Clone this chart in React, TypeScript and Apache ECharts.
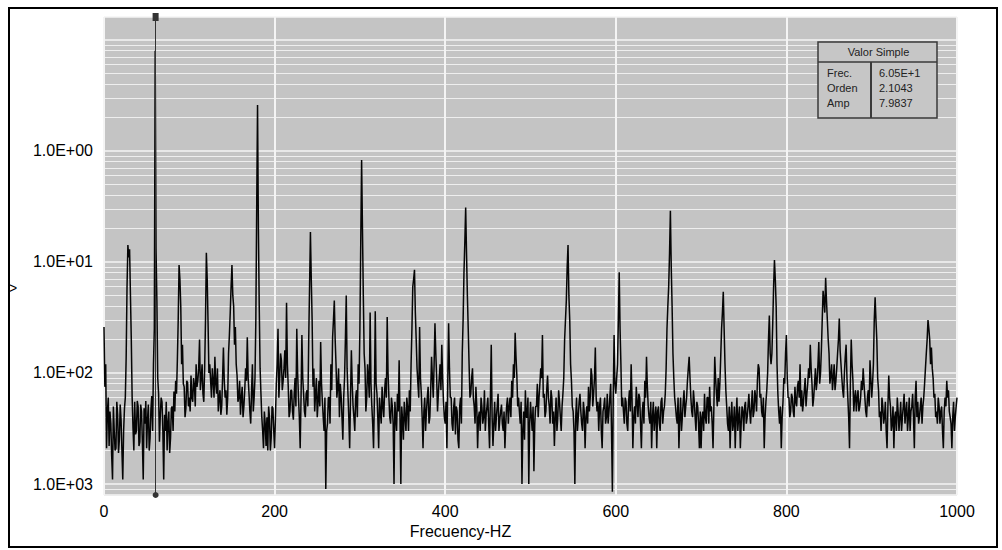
import React, { useEffect, useRef } from "react";
import * as echarts from "echarts";

// Spectrum amplitude, 1 Hz resolution:
// "even" arrays hold the values at 0, 2, 4 ... Hz, "odd" arrays those at 1, 3, 5 ... Hz.

const even000 = [
  0.026, 0.012, 0.0045, 0.0022, 0.0035, 0.0011, 0.003, 0.0021, 0.0042, 0.0025,
  0.0038, 0.0011, 0.0048, 0.014, 0.142, 0.13, 0.02, 0.0032, 0.0055, 0.003,
  0.005, 0.0024, 0.0045, 0.0011, 0.0035, 0.0021, 0.0052, 0.0026, 0.0062, 0.012,
  7.98, 0.045, 0.0065, 0.0042, 0.0055, 0.0011, 0.003, 0.002, 0.0045, 0.0026,
  0.005, 0.0068, 0.0085, 0.013, 0.094, 0.04, 0.018, 0.0075, 0.0048, 0.0082,
];
const odd000 = [
  0.0075, 0.0021, 0.006, 0.0045, 0.0018, 0.005, 0.002, 0.0055, 0.0019, 0.0052,
  0.002, 0.003, 0.006, 0.06, 0.11, 0.05, 0.006, 0.002, 0.0028, 0.0056,
  0.0022, 0.0052, 0.0024, 0.0048, 0.0056, 0.0038, 0.002, 0.0047, 0.003, 0.025,
  0.13, 0.009, 0.0024, 0.006, 0.003, 0.0042, 0.0055, 0.0035, 0.0019, 0.0048,
  0.003, 0.0045, 0.0065, 0.03, 0.07, 0.012, 0.008, 0.004, 0.0085, 0.005,
];
const even100 = [
  0.006, 0.0095, 0.0055, 0.0078, 0.012, 0.0085, 0.02, 0.009, 0.0065, 0.011,
  0.121, 0.028, 0.012, 0.006, 0.0085, 0.014, 0.0065, 0.0045, 0.007, 0.005,
  0.017, 0.006, 0.0042, 0.015, 0.035, 0.094, 0.04, 0.026, 0.0095, 0.006,
  0.0042, 0.0075, 0.005, 0.011, 0.021, 0.0065, 0.0035, 0.012, 0.006, 0.03,
  2.6, 0.039, 0.0065, 0.003, 0.0045, 0.0022, 0.002, 0.004, 0.0026, 0.0048,
];
const odd100 = [
  0.0045, 0.006, 0.009, 0.005, 0.0075, 0.011, 0.007, 0.012, 0.0055, 0.03,
  0.07, 0.01, 0.0085, 0.011, 0.006, 0.008, 0.011, 0.006, 0.0042, 0.009,
  0.0085, 0.007, 0.006, 0.022, 0.06, 0.05, 0.018, 0.012, 0.0055, 0.0085,
  0.006, 0.004, 0.007, 0.0085, 0.009, 0.0045, 0.007, 0.0045, 0.009, 0.3,
  0.2, 0.011, 0.004, 0.0021, 0.0035, 0.004, 0.005, 0.002, 0.005, 0.003,
];
const even200 = [
  0.0021, 0.008, 0.025, 0.009, 0.013, 0.0085, 0.016, 0.043, 0.0075, 0.0045,
  0.007, 0.0038, 0.009, 0.025, 0.006, 0.0021, 0.022, 0.0065, 0.004, 0.007,
  0.02, 0.186, 0.03, 0.011, 0.0065, 0.004, 0.0085, 0.019, 0.0055, 0.003,
  0.0009, 0.0035, 0.006, 0.012, 0.021, 0.045, 0.012, 0.0075, 0.004, 0.0062,
  0.0025, 0.009, 0.05, 0.0065, 0.0021, 0.016, 0.005, 0.003, 0.007, 0.012,
];
const odd200 = [
  0.004, 0.012, 0.006, 0.015, 0.007, 0.011, 0.009, 0.012, 0.004, 0.007,
  0.0045, 0.0065, 0.005, 0.01, 0.004, 0.006, 0.009, 0.0045, 0.0065, 0.005,
  0.06, 0.07, 0.0075, 0.0045, 0.009, 0.0055, 0.005, 0.008, 0.004, 0.006,
  0.003, 0.006, 0.0035, 0.007, 0.03, 0.02, 0.006, 0.011, 0.008, 0.004,
  0.006, 0.02, 0.011, 0.004, 0.006, 0.008, 0.004, 0.006, 0.004, 0.008,
];
const even300 = [
  0.025, 0.83, 0.05, 0.011, 0.006, 0.009, 0.035, 0.005, 0.0021, 0.036,
  0.0065, 0.0021, 0.0045, 0.0075, 0.004, 0.009, 0.032, 0.006, 0.0035, 0.005,
  0.001, 0.004, 0.0065, 0.013, 0.001, 0.0038, 0.0055, 0.003, 0.0048, 0.007,
  0.012, 0.06, 0.085, 0.02, 0.008, 0.026, 0.0065, 0.0021, 0.006, 0.0045,
  0.0075, 0.004, 0.014, 0.006, 0.028, 0.009, 0.0065, 0.012, 0.018, 0.0055,
];
const odd300 = [
  0.15, 0.2, 0.015, 0.0045, 0.012, 0.006, 0.008, 0.0035, 0.006, 0.008,
  0.004, 0.006, 0.0035, 0.005, 0.007, 0.006, 0.01, 0.004, 0.006, 0.0035,
  0.0055, 0.003, 0.0045, 0.004, 0.005, 0.0025, 0.004, 0.006, 0.003, 0.0045,
  0.025, 0.07, 0.035, 0.011, 0.006, 0.009, 0.004, 0.0045, 0.003, 0.006,
  0.0035, 0.007, 0.009, 0.012, 0.015, 0.0045, 0.009, 0.007, 0.009, 0.004,
];
const even400 = [
  0.0035, 0.0021, 0.028, 0.006, 0.0035, 0.005, 0.0028, 0.0045, 0.0021, 0.006,
  0.015, 0.08, 0.31, 0.05, 0.012, 0.0065, 0.011, 0.005, 0.0075, 0.0021,
  0.0045, 0.006, 0.0035, 0.007, 0.0042, 0.006, 0.0021, 0.018, 0.0022, 0.0055,
  0.004, 0.0065, 0.0038, 0.0052, 0.003, 0.0021, 0.005, 0.0035, 0.006, 0.0085,
  0.012, 0.023, 0.0095, 0.006, 0.0035, 0.001, 0.0045, 0.007, 0.004, 0.001,
];
const odd400 = [
  0.0055, 0.008, 0.011, 0.006, 0.003, 0.006, 0.005, 0.0025, 0.005, 0.0035,
  0.03, 0.15, 0.12, 0.025, 0.006, 0.009, 0.006, 0.0035, 0.005, 0.004,
  0.003, 0.005, 0.004, 0.003, 0.005, 0.0035, 0.006, 0.004, 0.0035, 0.003,
  0.005, 0.003, 0.0045, 0.0035, 0.0045, 0.0035, 0.006, 0.005, 0.004, 0.006,
  0.009, 0.014, 0.005, 0.0045, 0.0055, 0.003, 0.0025, 0.004, 0.006, 0.0035,
];
const even500 = [
  0.0055, 0.003, 0.0013, 0.005, 0.008, 0.006, 0.011, 0.022, 0.0065, 0.0045,
  0.0095, 0.005, 0.007, 0.0035, 0.0022, 0.006, 0.004, 0.0055, 0.003, 0.0065,
  0.02, 0.045, 0.142, 0.03, 0.0085, 0.0045, 0.001, 0.006, 0.004, 0.0065,
  0.0035, 0.0055, 0.0021, 0.005, 0.0075, 0.006, 0.0095, 0.0065, 0.017, 0.0045,
  0.003, 0.006, 0.0021, 0.005, 0.0035, 0.0065, 0.0045, 0.008, 0.00085, 0.022,
];
const odd500 = [
  0.004, 0.005, 0.0035, 0.005, 0.004, 0.008, 0.009, 0.006, 0.004, 0.007,
  0.006, 0.0035, 0.006, 0.0045, 0.004, 0.003, 0.007, 0.004, 0.005, 0.009,
  0.03, 0.09, 0.05, 0.012, 0.005, 0.003, 0.004, 0.003, 0.0055, 0.0045,
  0.003, 0.0045, 0.004, 0.0035, 0.0045, 0.011, 0.005, 0.009, 0.006, 0.0055,
  0.005, 0.003, 0.0045, 0.006, 0.004, 0.0035, 0.006, 0.003, 0.006, 0.008,
];
const even600 = [
  0.0065, 0.012, 0.081, 0.012, 0.006, 0.0035, 0.0055, 0.003, 0.007, 0.012,
  0.0021, 0.005, 0.0075, 0.004, 0.006, 0.0021, 0.0055, 0.0085, 0.014, 0.005,
  0.0035, 0.0021, 0.0055, 0.004, 0.0021, 0.005, 0.003, 0.006, 0.0045, 0.0065,
  0.025, 0.06, 0.29, 0.04, 0.009, 0.005, 0.0035, 0.0021, 0.006, 0.004,
  0.007, 0.005, 0.0085, 0.014, 0.006, 0.004, 0.0055, 0.003, 0.005, 0.0021,
];
const odd600 = [
  0.009, 0.03, 0.025, 0.005, 0.0045, 0.006, 0.0035, 0.0055, 0.0045, 0.006,
  0.004, 0.0035, 0.0055, 0.0065, 0.0035, 0.0045, 0.0035, 0.006, 0.0075, 0.004,
  0.0055, 0.004, 0.003, 0.005, 0.0045, 0.0035, 0.0055, 0.0035, 0.005, 0.011,
  0.04, 0.12, 0.09, 0.015, 0.006, 0.004, 0.006, 0.004, 0.003, 0.0055,
  0.004, 0.006, 0.011, 0.009, 0.0045, 0.007, 0.004, 0.0055, 0.0035, 0.0045,
];
const even700 = [
  0.0021, 0.0045, 0.0065, 0.0035, 0.006, 0.0075, 0.005, 0.0021, 0.014, 0.0065,
  0.009, 0.008, 0.025, 0.054, 0.012, 0.005, 0.003, 0.0021, 0.0055, 0.0035,
  0.0021, 0.006, 0.004, 0.0021, 0.005, 0.003, 0.0055, 0.004, 0.0065, 0.0035,
  0.007, 0.0045, 0.006, 0.0085, 0.011, 0.0065, 0.004, 0.0021, 0.0055, 0.01,
  0.033, 0.012, 0.028, 0.104, 0.04, 0.0065, 0.0035, 0.0021, 0.0055, 0.008,
];
const odd700 = [
  0.004, 0.003, 0.004, 0.006, 0.0035, 0.0045, 0.0035, 0.005, 0.009, 0.005,
  0.0055, 0.014, 0.035, 0.025, 0.007, 0.0035, 0.005, 0.004, 0.003, 0.005,
  0.004, 0.003, 0.005, 0.0035, 0.0045, 0.005, 0.0035, 0.005, 0.0045, 0.005,
  0.004, 0.007, 0.0045, 0.012, 0.006, 0.0045, 0.006, 0.004, 0.007, 0.02,
  0.015, 0.015, 0.06, 0.07, 0.012, 0.0045, 0.005, 0.004, 0.009, 0.015,
];
const even800 = [
  0.022, 0.006, 0.004, 0.0065, 0.0045, 0.0075, 0.005, 0.0085, 0.012, 0.007,
  0.0055, 0.009, 0.0065, 0.011, 0.018, 0.008, 0.006, 0.011, 0.0085, 0.019,
  0.01, 0.03, 0.045, 0.072, 0.03, 0.015, 0.0095, 0.007, 0.012, 0.0085,
  0.015, 0.031, 0.012, 0.007, 0.01, 0.018, 0.006, 0.0021, 0.02, 0.0085,
  0.006, 0.0045, 0.007, 0.005, 0.0085, 0.011, 0.006, 0.004, 0.007, 0.013,
];
const odd800 = [
  0.009, 0.006, 0.0045, 0.006, 0.004, 0.0055, 0.0075, 0.006, 0.005, 0.0045,
  0.007, 0.005, 0.008, 0.009, 0.011, 0.005, 0.008, 0.007, 0.012, 0.008,
  0.016, 0.055, 0.035, 0.045, 0.02, 0.008, 0.012, 0.009, 0.007, 0.011,
  0.02, 0.016, 0.009, 0.006, 0.014, 0.009, 0.004, 0.008, 0.012, 0.0045,
  0.007, 0.006, 0.0045, 0.006, 0.007, 0.008, 0.0045, 0.006, 0.005, 0.009,
];
const even900 = [
  0.006, 0.012, 0.048, 0.02, 0.007, 0.0045, 0.006, 0.0035, 0.0055, 0.0021,
  0.0095, 0.005, 0.0035, 0.0021, 0.0045, 0.006, 0.003, 0.0055, 0.004, 0.0065,
  0.0045, 0.003, 0.006, 0.0045, 0.0065, 0.0021, 0.0085, 0.0055, 0.004, 0.006,
  0.005, 0.008, 0.015, 0.03, 0.02, 0.017, 0.009, 0.0065, 0.0045, 0.006,
  0.0035, 0.005, 0.0021, 0.006, 0.0085, 0.007, 0.004, 0.0021, 0.0055, 0.004,
  0.006,
];
const odd900 = [
  0.008, 0.03, 0.03, 0.009, 0.004, 0.003, 0.005, 0.004, 0.003, 0.005,
  0.006, 0.003, 0.005, 0.004, 0.003, 0.0045, 0.004, 0.003, 0.005, 0.0035,
  0.0055, 0.004, 0.003, 0.005, 0.004, 0.006, 0.004, 0.0035, 0.005, 0.0035,
  0.006, 0.011, 0.02, 0.025, 0.012, 0.011, 0.006, 0.004, 0.0035, 0.005,
  0.0045, 0.003, 0.0045, 0.005, 0.006, 0.0045, 0.0035, 0.004, 0.003, 0.005,
];

const X_MIN = 0;
const X_MAX = 1000;
const X_INTERVAL = 200;
const Y_MIN = 0.000796;
const Y_MAX = 16.1;
const Y_DECADE_LABELS = ["1.0E+00", "1.0E+01", "1.0E+02", "1.0E+03"];
const X_AXIS_NAME = "Frecuency-HZ";
const Y_AXIS_NAME = ">";
const CURSOR_FREQ = 60.5;
const READOUT_TITLE = "Valor Simple";
const READOUT_LABELS = ["Frec.", "Orden", "Amp"];
const READOUT_VALUES = ["6.05E+1", "2.1043", "7.9837"];

const FONT = '"Liberation Sans", Arial, sans-serif';

export default function App() {
  const ref = useRef<HTMLDivElement>(null);

  useEffect(() => {
    if (!ref.current) return;
    const chart = echarts.init(ref.current, undefined, { renderer: "svg" });
    const evens = [
      ...even000, ...even100, ...even200, ...even300, ...even400,
      ...even500, ...even600, ...even700, ...even800, ...even900,
    ];
    const odds = [
      ...odd000, ...odd100, ...odd200, ...odd300, ...odd400,
      ...odd500, ...odd600, ...odd700, ...odd800, ...odd900,
    ];
    const data: number[][] = [];
    evens.forEach((v, i) => {
      data.push([2 * i, v]);
      if (i < odds.length) data.push([2 * i + 1, odds[i]]);
    });

    const boxX = 818, boxY = 42, boxW = 119, boxH = 76, headH = 20, divX = 871;
    const stroke = "#3a3a3a";
    const Z = 100;
    const readoutEls: any[] = [
      { type: "rect", z: Z, shape: { x: boxX, y: boxY, width: boxW, height: boxH }, style: { fill: "#c6c6c6", stroke, lineWidth: 1.5 } },
      { type: "line", z: Z + 1, shape: { x1: boxX, y1: boxY + headH, x2: boxX + boxW, y2: boxY + headH }, style: { stroke, lineWidth: 1.5 } },
      { type: "line", z: Z + 1, shape: { x1: divX, y1: boxY + headH, x2: divX, y2: boxY + boxH }, style: { stroke, lineWidth: 2 } },
      { type: "text", z: Z + 1, x: boxX + boxW / 2 + 1, y: boxY + headH / 2, style: { text: READOUT_TITLE, font: `11px ${FONT}`, fill: "#222", align: "center", verticalAlign: "middle" } },
    ];
    READOUT_LABELS.forEach((t, i) => {
      readoutEls.push({ type: "text", z: Z + 1, x: boxX + 9, y: boxY + 31 + i * 15, style: { text: t, font: `11px ${FONT}`, fill: "#222", verticalAlign: "middle" } });
      readoutEls.push({ type: "text", z: Z + 1, x: divX + 8, y: boxY + 31 + i * 15, style: { text: READOUT_VALUES[i], font: `11px ${FONT}`, fill: "#222", verticalAlign: "middle" } });
    });

    chart.setOption({
      animation: false,
      backgroundColor: "#ffffff",
      grid: { left: 104, right: 45, top: 17, bottom: 55, show: true, backgroundColor: "#c4c4c4", borderWidth: 0 },
      xAxis: {
        type: "value",
        min: X_MIN,
        max: X_MAX,
        interval: X_INTERVAL,
        axisLine: { show: false },
        axisTick: { show: false },
        axisLabel: { fontSize: 16, color: "#000", fontFamily: FONT, margin: 8, formatter: (v: number) => String(v) },
        splitLine: { show: true, lineStyle: { color: "#f4f4f4", width: 2 } },
        name: X_AXIS_NAME,
        nameLocation: "middle",
        nameGap: 25,
        nameTextStyle: { fontSize: 16, color: "#000", fontFamily: FONT, padding: [0, 140, 0, 0] },
      },
      yAxis: {
        type: "log",
        logBase: 10,
        min: Y_MIN,
        max: Y_MAX,
        axisLine: { show: false },
        axisTick: { show: false },
        axisLabel: {
          fontSize: 16,
          color: "#000",
          fontFamily: FONT,
          margin: 11,
          showMinLabel: false,
          showMaxLabel: false,
          formatter: (val: number) => {
            const lg = Math.log10(val);
            const e = Math.round(-lg);
            if (Math.abs(lg + e) < 1e-6 && e >= 0 && e < Y_DECADE_LABELS.length) return Y_DECADE_LABELS[e];
            return "";
          },
        },
        splitLine: { show: true, lineStyle: { color: "#f4f4f4", width: 1.5 } },
        minorTick: { show: false, splitNumber: 9 },
        minorSplitLine: { show: true, lineStyle: { color: "#eeeeee", width: 1.2 } },
      },
      series: [
        {
          type: "line",
          data,
          showSymbol: false,
          symbol: "none",
          lineStyle: { color: "#050505", width: 1.5 },
          markLine: {
            silent: true,
            symbol: ["circle", "rect"],
            symbolSize: [6, 8],
            label: { show: false },
            lineStyle: { color: "#333", width: 1, type: "solid" },
            itemStyle: { color: "#111" },
            data: [{ xAxis: CURSOR_FREQ }],
          },
        },
      ],
      graphic: [
        { type: "group", z: Z, children: readoutEls },
        { type: "text", x: 9, y: 281, style: { text: Y_AXIS_NAME, font: `14px ${FONT}`, fill: "#000" } },
        { type: "rect", shape: { x: 9, y: 8, width: 988, height: 539 }, style: { fill: "none", stroke: "#000", lineWidth: 2 }, silent: true, z: 200 },
      ],
    });

    return () => chart.dispose();
  }, []);

  return (
    <div
      ref={ref}
      style={{ position: "absolute", left: 0, top: 0, width: 1002, height: 550, background: "#fff" }}
    />
  );
}
